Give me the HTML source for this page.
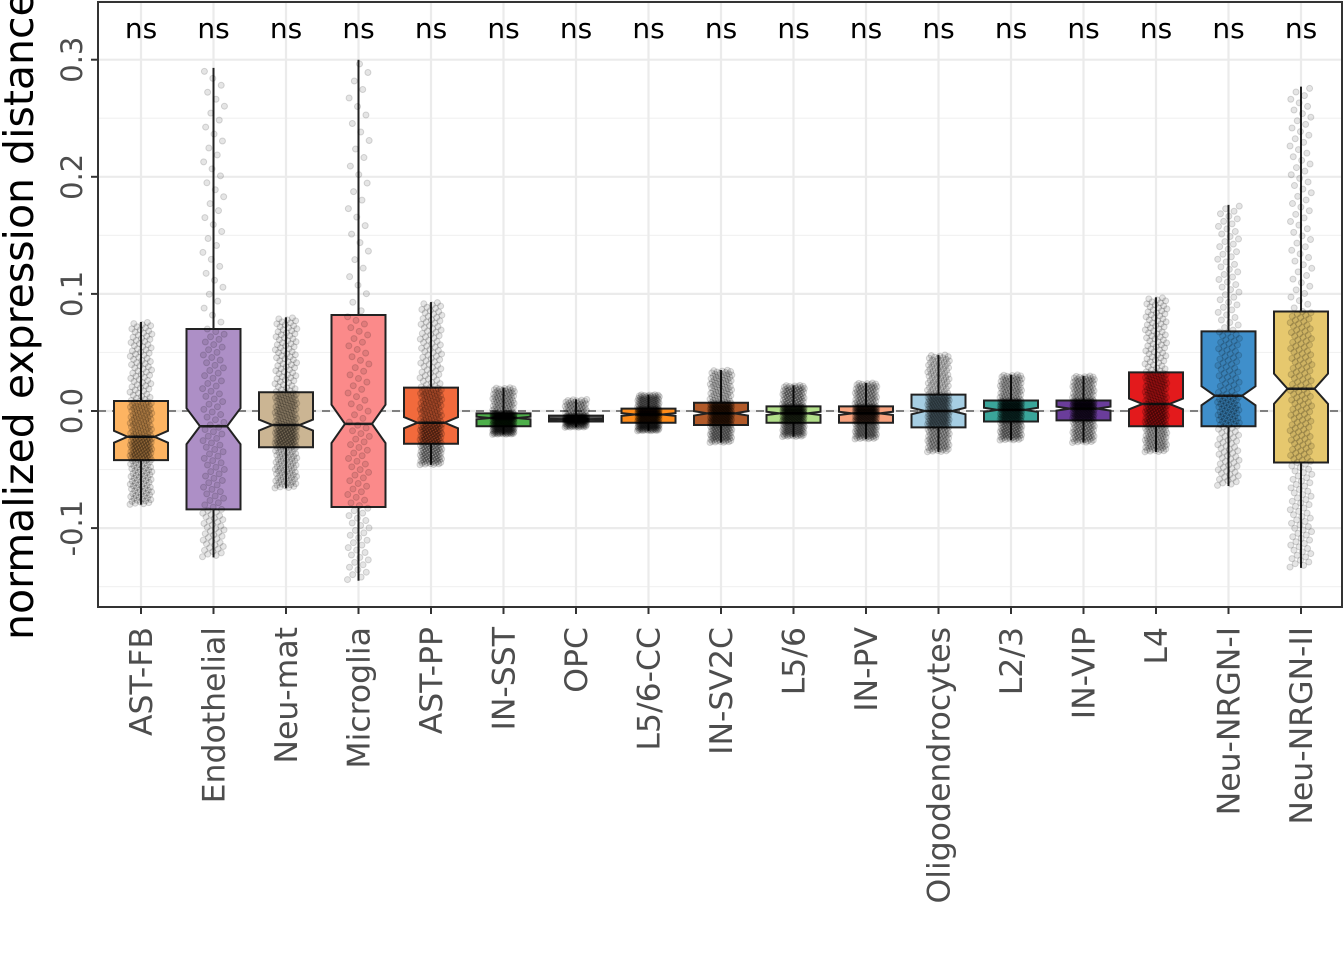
<!DOCTYPE html>
<html><head><meta charset="utf-8"><style>
html,body{margin:0;padding:0;background:#fff;}
svg{display:block;font-family:"DejaVu Sans","Liberation Sans",sans-serif;}
</style></head><body>
<svg id="chart" width="1344" height="960" viewBox="0 0 1344 960" xmlns="http://www.w3.org/2000/svg"></svg>
<script>
const categories=["AST-FB","Endothelial","Neu-mat","Microglia","AST-PP","IN-SST","OPC","L5/6-CC","IN-SV2C","L5/6","IN-PV","Oligodendrocytes","L2/3","IN-VIP","L4","Neu-NRGN-I","Neu-NRGN-II"];
const q1=[-0.042,-0.084,-0.031,-0.082,-0.028,-0.013,-0.009,-0.010,-0.012,-0.010,-0.010,-0.014,-0.009,-0.008,-0.013,-0.013,-0.044];
const median=[-0.022,-0.013,-0.012,-0.011,-0.010,-0.006,-0.007,-0.003,-0.002,-0.002,-0.002,0.000,0.001,0.002,0.006,0.013,0.019];
const q3=[0.0085,0.070,0.016,0.082,0.020,-0.002,-0.004,0.002,0.007,0.004,0.004,0.014,0.009,0.009,0.033,0.068,0.085];
const whiskerLow=[-0.080,-0.125,-0.066,-0.145,-0.046,-0.020,-0.014,-0.017,-0.027,-0.022,-0.024,-0.035,-0.025,-0.027,-0.035,-0.064,-0.134];
const whiskerHigh=[0.076,0.293,0.080,0.300,0.093,0.020,0.010,0.014,0.035,0.022,0.024,0.048,0.031,0.030,0.097,0.176,0.277];
const pointCounts=[300,150,300,120,300,300,200,300,300,300,300,300,300,300,300,200,250];
const colors=["#fdb462","#ad8fc6","#cbb593","#fb8a8a","#f26a3c","#4daf4a","#555555","#ff8c1a","#b15928","#b2df8a","#f7a27e","#a6cee3","#3aa59a","#6a3d9a","#e31a1c","#3f8fcb","#e6c86e"];
const sigLabels=Array(17).fill("ns");
const yTicks=[-0.1,0.0,0.1,0.2,0.3];
const yTickLabels=["-0.1","0.0","0.1","0.2","0.3"];

const svg=document.getElementById('chart');
const NS="http://www.w3.org/2000/svg";
const P={l:98,r:1342,t:2,b:607};
const y=v=>411-v*1171;
const x=i=>141+i*72.5;
function mk(tag,attrs,parent){const e=document.createElementNS(NS,tag);for(const k in attrs)e.setAttribute(k,attrs[k]);(parent||svg).appendChild(e);return e;}

const grid=mk('g',{});


for(let v=-0.15;v<=0.35;v+=0.1){mk('line',{x1:P.l,x2:P.r,y1:y(v),y2:y(v),stroke:'#f2f2f2','stroke-width':1.2},grid);}
yTicks.forEach(v=>mk('line',{x1:P.l,x2:P.r,y1:y(v),y2:y(v),stroke:'#ebebeb','stroke-width':2.2},grid));
categories.forEach((c,i)=>mk('line',{x1:x(i),x2:x(i),y1:P.t,y2:P.b,stroke:'#ebebeb','stroke-width':2.2},grid));

const zl=mk('line',{x1:P.l,x2:P.r,y1:y(0),y2:y(0),stroke:'#808080','stroke-width':2,'stroke-dasharray':'8,6'});



function quant(i,p){
  const qs=[whiskerLow[i],q1[i],median[i],q3[i],whiskerHigh[i]];
  const t=p*4;const k=Math.min(3,Math.floor(t));return qs[k]+(qs[k+1]-qs[k])*(t-k);
}
categories.forEach((c,i)=>{
  const g=mk('g',{});
  
  
  const hw=27, cx=x(i);
  mk('line',{x1:cx,x2:cx,y1:y(whiskerHigh[i]),y2:y(whiskerLow[i]),stroke:'#222','stroke-width':2},g);
  const iqr=q3[i]-q1[i];
  let n=0.1*iqr;
  const nt=Math.min(y(median[i]-n),y(q1[i])), ntop=Math.max(y(median[i]+n),y(q3[i]));
  const ym=y(median[i]);
  const pts=[[cx-hw,y(q3[i])],[cx+hw,y(q3[i])],[cx+hw,ntop],[cx+hw/2,ym],[cx+hw,nt],[cx+hw,y(q1[i])],[cx-hw,y(q1[i])],[cx-hw,nt],[cx-hw/2,ym],[cx-hw,ntop]];
  mk('polygon',{points:pts.map(p=>p.join(',')).join(' '),fill:colors[i],stroke:'#222','stroke-width':2},g);
  mk('line',{x1:cx-hw/2,x2:cx+hw/2,y1:ym,y2:ym,stroke:'#222','stroke-width':2.5},g);
  const pg=mk('g',{fill:'#000','fill-opacity':0.1,stroke:'#000','stroke-opacity':0.15},g);
  
  
  const N=pointCounts[i];
  for(let k=0;k<N;k++){
    const p=(k+0.5)/N;
    const jx=(((k*0.618034)%1)-0.5)*22;
    mk('circle',{cx:cx+jx,cy:y(quant(i,p)),r:3},pg);
  }
  const t=mk('text',{x:cx,y:38,'text-anchor':'middle','font-size':28,fill:'#000'});
  t.textContent=sigLabels[i];
  
  
  mk('line',{x1:cx,x2:cx,y1:P.b,y2:P.b+7,stroke:'#333','stroke-width':2});
  const xl=mk('text',{transform:`translate(${cx+11},${P.b+20}) rotate(-90)`,'text-anchor':'end','font-size':31.5,fill:'#4d4d4d'});
  xl.textContent=c;
  
  
});
yTicks.forEach((v,i)=>{
  mk('line',{x1:P.l-7,x2:P.l,y1:y(v),y2:y(v),stroke:'#333','stroke-width':2});
  const t=mk('text',{transform:`translate(${P.l-16},${y(v)}) rotate(-90)`,'text-anchor':'middle','font-size':29,fill:'#4d4d4d'});
  t.textContent=yTickLabels[i];
  
  
});
const fr=mk('rect',{x:P.l,y:P.t,width:P.r-P.l,height:P.b-P.t,fill:'none',stroke:'#333','stroke-width':2});


const yt=mk('text',{transform:'translate(33,640) rotate(-90)','text-anchor':'start','font-size':41,fill:'#000'});
yt.textContent='normalized expression distance';


</script>
</body></html>
